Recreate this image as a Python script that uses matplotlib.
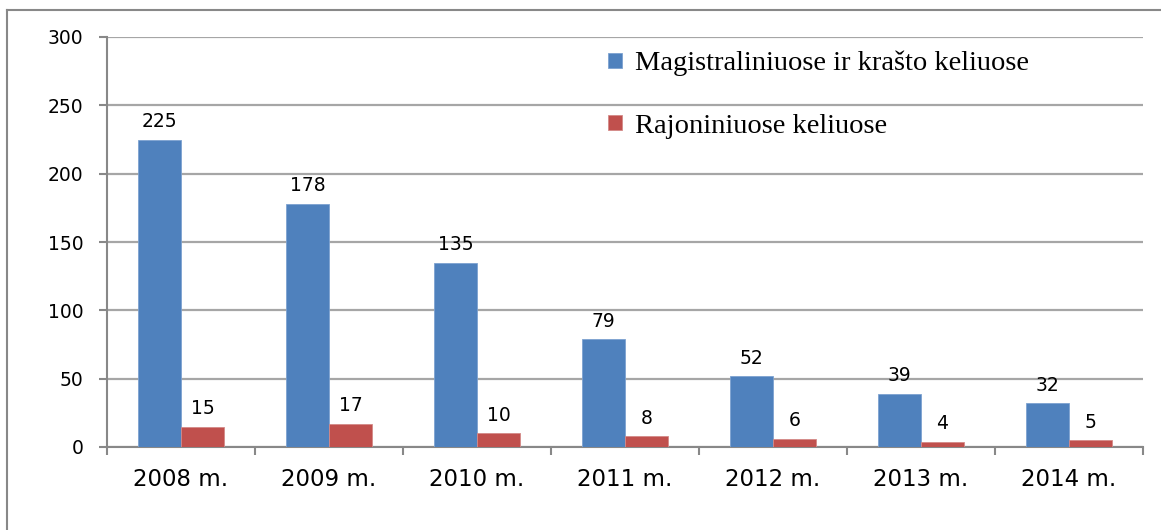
import matplotlib
matplotlib.use('Agg')
import matplotlib.pyplot as plt
import numpy as np
from matplotlib.lines import Line2D

years = ['2008 m.', '2009 m.', '2010 m.', '2011 m.', '2012 m.', '2013 m.', '2014 m.']
main_roads = [225, 178, 135, 79, 52, 39, 32]
district_roads = [15, 17, 10, 8, 6, 4, 5]
labels = ['Magistraliniuose ir krašto keliuose', 'Rajoniniuose keliuose']

blue = '#4F81BD'
red = '#C0504D'
grid_c = '#A6A6A6'

fig = plt.figure(figsize=(11.61, 5.30), dpi=100)
ax = fig.add_axes([107 / 1161, 83 / 530, (1143 - 107) / 1161, (447 - 37) / 530])

x = np.arange(len(years))
w = 0.29
b1 = ax.bar(x - w / 2, main_roads, w, color=blue, edgecolor='#7DA2D0', linewidth=0.6, label=labels[0], zorder=3)
b2 = ax.bar(x + w / 2, district_roads, w, color=red, edgecolor='#D48A88', linewidth=0.6, label=labels[1], zorder=3)

for bars in (b1, b2):
    for r in bars:
        ax.annotate('%d' % r.get_height(), (r.get_x() + r.get_width() / 2, r.get_height()),
                    xytext=(0, 6), textcoords='offset points', ha='center', va='bottom',
                    fontsize=13.5, family='DejaVu Sans')

ax.set_xlim(-0.5, len(years) - 0.5)
ax.set_ylim(0, 300)
ax.set_yticks(range(0, 301, 50))
ax.set_yticklabels([str(v) for v in range(0, 301, 50)], fontsize=13.5)
ax.yaxis.grid(True, color=grid_c, linewidth=1.6, zorder=0)
ax.set_axisbelow(True)

ax.set_xticks(x)
ax.set_xticklabels(years, fontsize=16.5)
ax.set_xticks(np.arange(-0.5, len(years)), minor=True)
ax.tick_params(axis='x', which='major', length=0, pad=15)
ax.tick_params(axis='x', which='minor', length=6, width=1.5, color='#888888', direction='out')
ax.tick_params(axis='y', length=6, width=1.5, color='#888888', pad=11)

for s in ('top', 'right'):
    ax.spines[s].set_visible(False)
for s in ('left', 'bottom'):
    ax.spines[s].set_color('#888888')
    ax.spines[s].set_linewidth(1.5)

leg = ax.legend(loc='upper left', bbox_to_anchor=(608 / 1161, 1 - 51 / 530),
                bbox_transform=fig.transFigure, frameon=False,
                prop={'family': 'Liberation Serif', 'size': 20.5},
                handlelength=0.5, handleheight=0.45, handletextpad=0.45,
                labelspacing=1.3, borderpad=0, borderaxespad=0)

# outer chart frame (left and top edges visible)
fig.add_artist(Line2D([7 / 1161, 7 / 1161], [0, 1 - 10 / 530], transform=fig.transFigure, color='#888888', lw=1.5))
fig.add_artist(Line2D([7 / 1161, 1], [1 - 10 / 530, 1 - 10 / 530], transform=fig.transFigure, color='#888888', lw=1.5))

fig.savefig('out.png', dpi=100)
